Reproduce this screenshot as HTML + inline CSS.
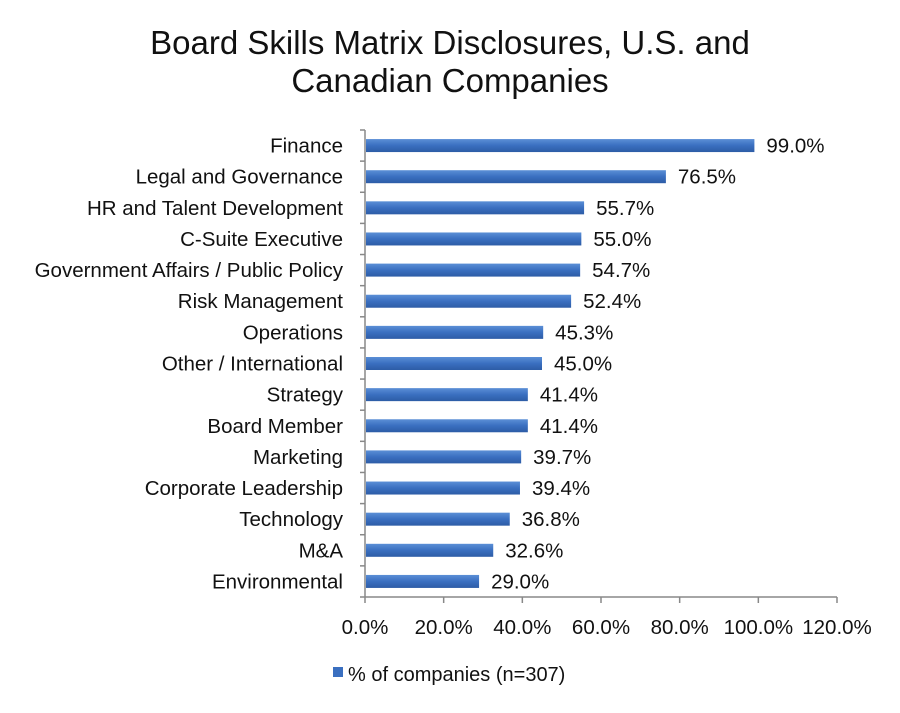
<!DOCTYPE html>
<html><head><meta charset="utf-8"><style>
body{margin:0;background:#fff;}
svg{display:block;font-family:"Liberation Sans","DejaVu Sans",sans-serif;}
</style></head><body>
<svg id="chart" width="900" height="713" viewBox="0 0 900 713">
<defs><linearGradient id="g" x1="0" y1="0" x2="0" y2="1">
<stop offset="0" stop-color="#5b8fd6"/><stop offset="0.5" stop-color="#3a6fc0"/><stop offset="1" stop-color="#2d5ca6"/></linearGradient></defs>
<text x="450" y="54" text-anchor="middle" font-size="33" fill="#111">Board Skills Matrix Disclosures, U.S. and</text>
<text x="450" y="92" text-anchor="middle" font-size="33" fill="#111">Canadian Companies</text>
<g id="plot"></g>
<rect x="333" y="667" width="10" height="10" fill="#3a6fc0"/>
<text x="348" y="681" font-size="20" fill="#111">% of companies (n=307)</text>
</svg>
<script>
const categories=["Finance","Legal and Governance","HR and Talent Development","C-Suite Executive","Government Affairs / Public Policy","Risk Management","Operations","Other / International","Strategy","Board Member","Marketing","Corporate Leadership","Technology","M&A","Environmental"];
const values=[99.0,76.5,55.7,55.0,54.7,52.4,45.3,45.0,41.4,41.4,39.7,39.4,36.8,32.6,29.0];
const ticks=[0,20,40,60,80,100,120];
const tickLabels=["0.0%","20.0%","40.0%","60.0%","80.0%","100.0%","120.0%"];
const NS="http://www.w3.org/2000/svg";
const plot=document.getElementById('plot');
const x0=365,xMax=837,plotTop=130,plotBottom=597;
const xs=v=>x0+(v/120)*(xMax-x0);
const band=(plotBottom-plotTop)/categories.length;
const ys=i=>plotTop+band*i;
function mk(t,a){const e=document.createElementNS(NS,t);for(const k in a)e.setAttribute(k,a[k]);plot.appendChild(e);return e;}
let ax=mk('line',{x1:x0,y1:plotTop,x2:x0,y2:plotBottom,stroke:'#888','stroke-width':1.5});


let bx=mk('line',{x1:x0,y1:plotBottom,x2:xMax,y2:plotBottom,stroke:'#888','stroke-width':1.5});


for(let i=0;i<=categories.length;i++){
 let t=mk('line',{x1:x0-5,y1:ys(i),x2:x0,y2:ys(i),stroke:'#888','stroke-width':1.5});
 
 
}
ticks.forEach((v,i)=>{
 let t=mk('line',{x1:xs(v),y1:plotBottom,x2:xs(v),y2:plotBottom+6,stroke:'#888','stroke-width':1.5});
 
 
 let l=mk('text',{x:xs(v),y:634,'text-anchor':'middle','font-size':20.5,fill:'#111'});
 l.textContent=tickLabels[i];
 
 
});
categories.forEach((c,i)=>{
 const cy=ys(i)+band/2;
 let l=mk('text',{x:343,y:cy+7,'text-anchor':'end','font-size':20.5,fill:'#111'});
 l.textContent=c;
 
 
 let b=mk('rect',{x:x0+1,y:cy-6.5,width:xs(values[i])-x0-1,height:13,fill:'url(#g)'});
 
 
 let v=mk('text',{x:xs(values[i])+12,y:cy+7,'font-size':20.5,fill:'#111'});
 v.textContent=values[i].toFixed(1)+'%';
 
 
});
</script>
</body></html>
